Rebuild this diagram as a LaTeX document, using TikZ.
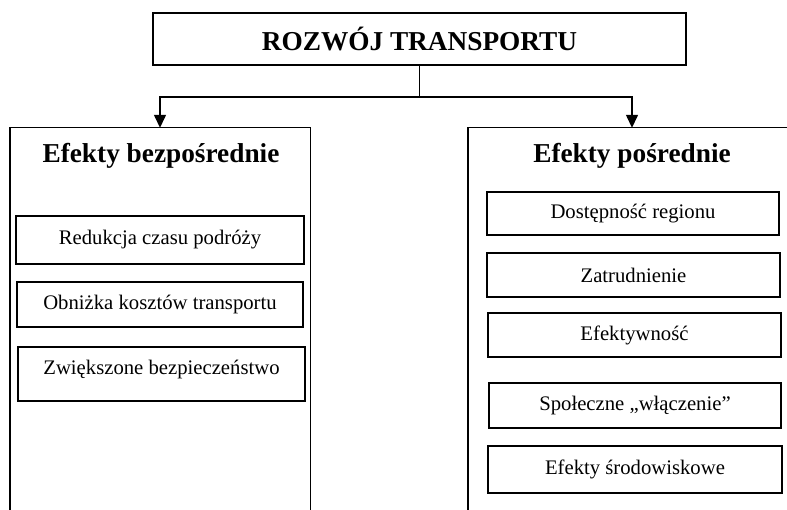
\documentclass[tikz,border=0pt]{standalone}
\usepackage{fontspec}
\setmainfont{Liberation Serif}
\usetikzlibrary{arrows.meta}
\begin{document}
\begin{tikzpicture}[x=1pt,y=-1pt,
  frame/.style={line width=1.4pt},
  bigtxt/.style={font=\fontsize{27.3}{30}\selectfont\bfseries},
  item/.style={draw,line width=1.4pt,rectangle,inner sep=0pt,font=\fontsize{20.7}{24}\selectfont},
  arr/.style={line width=1.4pt,-{Triangle[width=12pt,length=13pt]}}]
\useasboundingbox (0,0) rectangle (787,510);
\node[draw,frame,rectangle,inner sep=0pt,minimum width=533pt,minimum height=52pt,bigtxt] (title) at (419.5,39) {ROZWÓJ TRANSPORTU};
\node[rectangle,inner sep=0pt,minimum width=300pt,minimum height=384pt] (left) at (160,320) {};
\node[rectangle,inner sep=0pt,minimum width=328pt,minimum height=384pt] (right) at (632,320) {};
\draw[frame] (left.south west) -- (left.north west) -- (left.north east) -- (left.south east);
\draw[frame] (right.south west) -- (right.north west) -- (right.north east);
\node[bigtxt] (lh) at (161,155.5) {Efekty bezpośrednie};
\node[bigtxt] (rh) at (632,155.5) {Efekty pośrednie};
\coordinate (j) at (419.5,97);
\draw[frame] (title.south) -- (j);
\draw[arr] (j) -| (left.north);
\draw[arr] (j) -| (right.north);
\node[item,minimum width=288pt,minimum height=48pt] (l1) at (160,240) {Redukcja czasu podróży};
\node[item,minimum width=286pt,minimum height=45pt] (l2) at (160,304.5) {Obniżka kosztów transportu};
\node[item,minimum width=287pt,minimum height=54pt,text height=14pt,text depth=12pt] (l3) at (161.5,374) {Zwiększone bezpieczeństwo};
\node[item,minimum width=292pt,minimum height=43pt] (r1) at (633,213.5) {Dostępność regionu};
\node[item,minimum width=293pt,minimum height=44pt] (r2) at (633.5,275) {Zatrudnienie};
\node[item,minimum width=293pt,minimum height=44pt] (r3) at (634.5,335) {Efektywność};
\node[item,minimum width=292pt,minimum height=45pt] (r4) at (635,405.5) {Społeczne „włączenie”};
\node[item,minimum width=294pt,minimum height=47pt] (r5) at (635,469.5) {Efekty środowiskowe};
\end{tikzpicture}
\end{document}
